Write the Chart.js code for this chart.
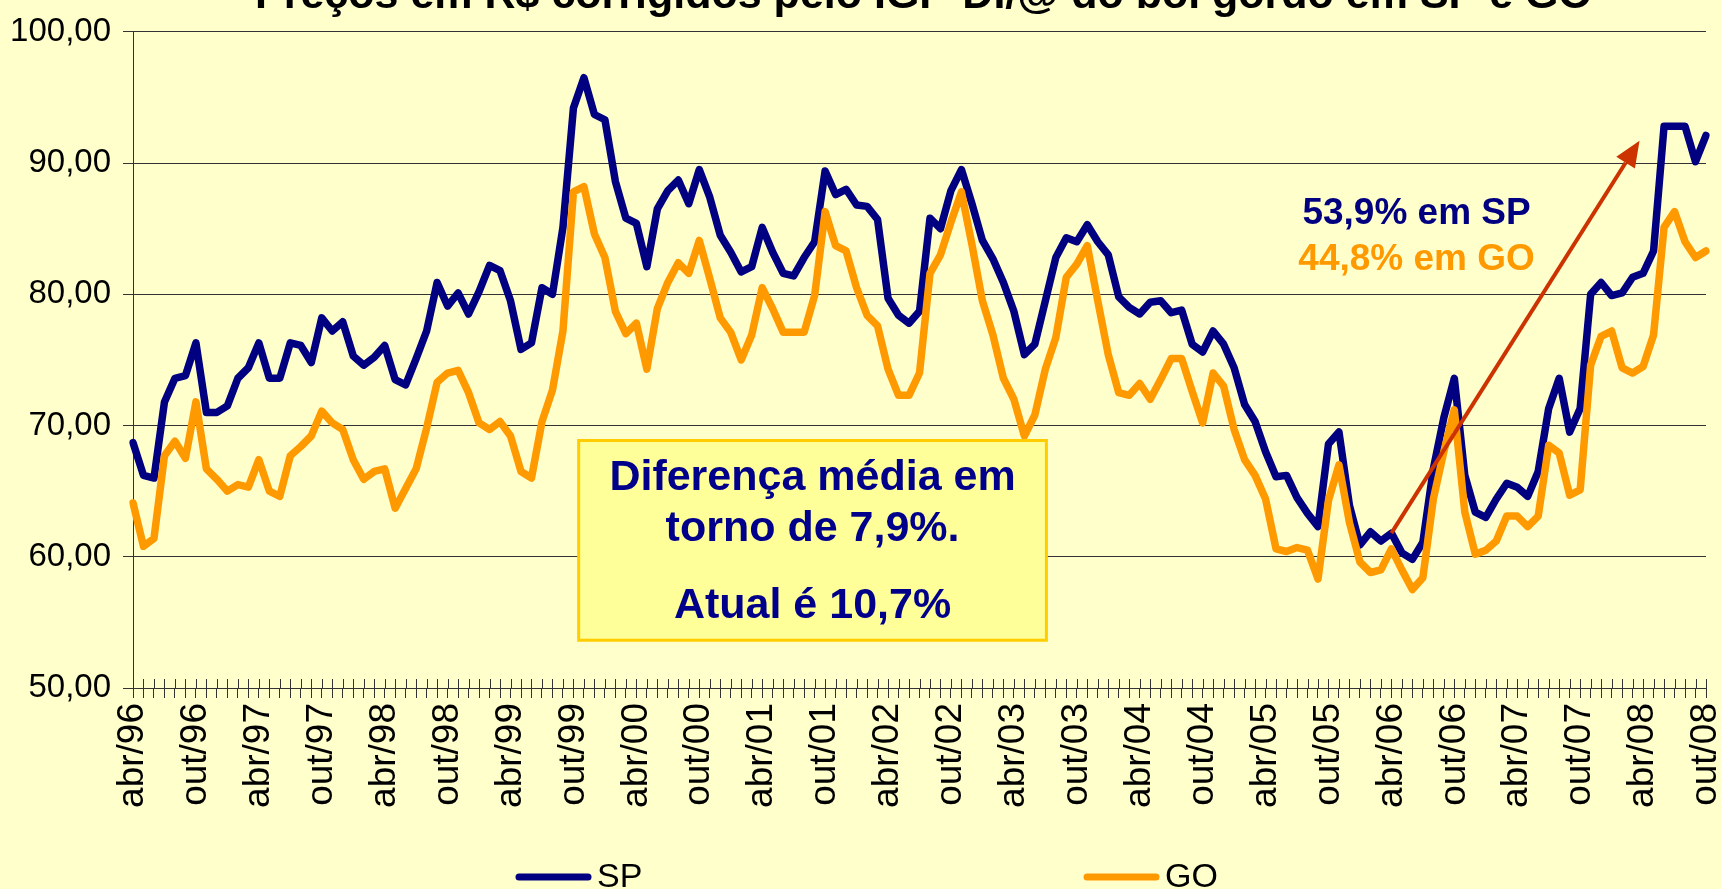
<!DOCTYPE html>
<html>
<head>
<meta charset="utf-8">
<title>Boi gordo SP e GO</title>
<script src="https://cdn.jsdelivr.net/npm/chart.js@4.4.1/dist/chart.umd.min.js"></script>
<style>
  html, body { margin: 0; padding: 0; background: #FFFFCC; }
  #caixa { width: 1721px; height: 889px; }
</style>
</head>
<body>
<div id="caixa"><canvas id="grafico"></canvas></div>
<script>
// meses / anos para os rótulos (abr/96 ... out/08)
const MESES = ['jan','fev','mar','abr','mai','jun','jul','ago','set','out','nov','dez'];
const PRIMEIRO_MES = 3, PRIMEIRO_ANO = 1996, N_MESES = 151;

// R$/@ corrigidos pelo IGP-DI - SP
const valoresSP = [
  68.7, 66.2, 66.0, 71.8, 73.6, 73.8, 76.3, 71.0, 71.0,                  // 1996 (abr-dez)
  71.5, 73.6, 74.4, 76.3, 73.6, 73.6, 76.3, 76.1, 74.8, 78.2, 77.2, 77.9, // 1997
  75.3, 74.6, 75.2, 76.1, 73.5, 73.1, 75.1, 77.2, 80.9, 79.1, 80.1, 78.5, // 1998
  80.2, 82.2, 81.8, 79.5, 75.8, 76.3, 80.5, 80.0, 85.1, 94.2, 96.5, 93.7, // 1999
  93.3, 88.6, 85.8, 85.4, 82.1, 86.5, 87.9, 88.7, 86.9, 89.5, 87.4, 84.5, // 2000
  83.2, 81.7, 82.1, 85.1, 83.2, 81.6, 81.4, 82.8, 84.0, 89.4, 87.6, 88.0, // 2001
  86.8, 86.7, 85.7, 79.7, 78.4, 77.8, 78.7, 85.8, 85.0, 87.9, 89.5, 86.9, // 2002
  84.1, 82.7, 80.9, 78.7, 75.4, 76.2, 79.5, 82.8, 84.3, 84.0, 85.3, 84.0, // 2003
  83.0, 79.8, 79.0, 78.5, 79.4, 79.5, 78.6, 78.8, 76.2, 75.6, 77.2, 76.2, // 2004
  74.4, 71.6, 70.3, 68.0, 66.1, 66.2, 64.5, 63.3, 62.3, 68.6, 69.5, 63.9, // 2005
  60.9, 61.9, 61.2, 61.8, 60.3, 59.8, 61.1, 66.7, 70.6, 73.6, 66.2, 63.4, // 2006
  63.0, 64.4, 65.6, 65.3, 64.6, 66.5, 71.3, 73.6, 69.5, 71.3, 80.0, 80.9, // 2007
  79.9, 80.1, 81.3, 81.6, 83.3, 92.8, 92.8, 92.8, 90.1, 92.1              // 2008 (jan-out)
];

// R$/@ corrigidos pelo IGP-DI - GO
const valoresGO = [
  64.1, 60.8, 61.4, 67.7, 68.8, 67.5, 71.8, 66.7, 65.9,
  65.0, 65.5, 65.3, 67.4, 65.0, 64.6, 67.7, 68.4, 69.2, 71.1, 70.2, 69.7,
  67.4, 65.9, 66.5, 66.7, 63.7, 65.2, 66.7, 69.8, 73.3, 74.0, 74.2, 72.5,
  70.2, 69.7, 70.3, 69.2, 66.5, 66.0, 70.3, 72.7, 77.2, 87.8, 88.2, 84.6,
  82.8, 78.7, 77.0, 77.8, 74.3, 78.9, 80.9, 82.4, 81.6, 84.1, 81.2, 78.2,
  77.1, 75.0, 76.9, 80.5, 78.9, 77.1, 77.1, 77.1, 79.9, 86.3, 83.7, 83.3,
  80.5, 78.4, 77.6, 74.3, 72.3, 72.3, 74.0, 81.6, 83.0, 85.5, 87.8, 83.8,
  79.5, 76.9, 73.6, 72.0, 69.2, 70.8, 74.3, 76.7, 81.3, 82.3, 83.7, 79.5,
  75.4, 72.5, 72.3, 73.2, 72.0, 73.5, 75.1, 75.1, 72.6, 70.2, 74.0, 73.0,
  69.7, 67.4, 66.2, 64.4, 60.6, 60.4, 60.7, 60.5, 58.3, 64.3, 67.0, 62.6,
  59.6, 58.8, 59.0, 60.6, 59.0, 57.5, 58.4, 64.4, 68.0, 71.2, 63.4, 60.2,
  60.5, 61.2, 63.1, 63.1, 62.3, 63.1, 68.5, 67.9, 64.7, 65.1, 74.6, 76.8,
  77.2, 74.4, 74.0, 74.5, 76.9, 85.1, 86.3, 84.0, 82.8, 83.3
];

const titulo = 'Preços em R$ corrigidos pelo IGP-DI/@ do boi gordo em SP e GO';
const textoSP = '53,9% em SP';
const textoGO = '44,8% em GO';
const textoCaixa = ['Diferença média em', 'torno de 7,9%.', 'Atual é 10,7%'];

let rotulos = [];
for (let i = 0; i < N_MESES; i++) {
  let m = (PRIMEIRO_MES + i) % 12;
  let a = PRIMEIRO_ANO + Math.floor((PRIMEIRO_MES + i) / 12);
  rotulos.push(MESES[m] + '/' + String(a % 100).padStart(2, '0'));
}

const FONTE = "'Liberation Sans', Arial, sans-serif";
const AZUL = '#000080', LARANJA = '#FF9900';
Chart.defaults.font.family = FONTE;

// fundo, titulo cortado, seta, caixa e legenda
const enfeites = {
  id: 'enfeites',
  beforeDraw(chart) {
    const ctx = chart.ctx;
    ctx.save();
    ctx.fillStyle = '#FFFFCC';
    ctx.fillRect(0, 0, chart.width, chart.height);
    ctx.restore();
  },
  beforeDatasetsDraw(chart) {
    // tracinhos do eixo x para dentro do gráfico
    const ctx = chart.ctx, x = chart.scales.x, base = chart.chartArea.bottom;
    ctx.save();
    ctx.strokeStyle = '#333';
    ctx.lineWidth = 1;
    ctx.beginPath();
    for (let i = 0; i < rotulos.length; i++) {
      let px = Math.round(x.getPixelForValue(i)) + 0.5;
      ctx.moveTo(px, base - 9);
      ctx.lineTo(px, base);
    }
    ctx.stroke();
    ctx.restore();
  },
  afterDatasetsDraw(chart) {
    const ctx = chart.ctx, x = chart.scales.x, y = chart.scales.y;
    ctx.save();

    // caixa de texto
    let x0 = x.getPixelForValue(42.5), x1 = x.getPixelForValue(87.1);
    let y0 = y.getPixelForValue(68.86), y1 = y.getPixelForValue(53.64);
    ctx.fillStyle = '#FFFF99';
    ctx.fillRect(x0, y0, x1 - x0, y1 - y0);
    ctx.strokeStyle = '#FFCC00';
    ctx.lineWidth = 3;
    ctx.strokeRect(x0, y0, x1 - x0, y1 - y0);
    ctx.fillStyle = '#00008B';
    ctx.font = 'bold 43px ' + FONTE;
    ctx.textAlign = 'center';
    ctx.textBaseline = 'middle';
    let cx = (x0 + x1) / 2;
    [66.0, 62.1, 56.2].forEach((v, i) => ctx.fillText(textoCaixa[i], cx, y.getPixelForValue(v)));

    // seta
    let ax = x.getPixelForValue(120), ay = y.getPixelForValue(61.8);
    let bx = x.getPixelForValue(143.66), by = y.getPixelForValue(91.7);
    let ang = Math.atan2(by - ay, bx - ax);
    let comp = 26, larg = 11;
    ctx.strokeStyle = '#CC3300';
    ctx.fillStyle = '#CC3300';
    ctx.lineWidth = 4;
    ctx.beginPath();
    ctx.moveTo(ax, ay);
    ctx.lineTo(bx - comp * Math.cos(ang), by - comp * Math.sin(ang));
    ctx.stroke();
    ctx.beginPath();
    ctx.moveTo(bx, by);
    ctx.lineTo(bx - comp * Math.cos(ang) + larg * Math.sin(ang), by - comp * Math.sin(ang) - larg * Math.cos(ang));
    ctx.lineTo(bx - comp * Math.cos(ang) - larg * Math.sin(ang), by - comp * Math.sin(ang) + larg * Math.cos(ang));
    ctx.closePath();
    ctx.fill();

    // variações
    ctx.font = 'bold 37px ' + FONTE;
    ctx.fillStyle = AZUL;
    ctx.fillText(textoSP, x.getPixelForValue(122.4), y.getPixelForValue(86.1));
    ctx.fillStyle = LARANJA;
    ctx.fillText(textoGO, x.getPixelForValue(122.4), y.getPixelForValue(82.6));
    ctx.restore();
  },
  afterDraw(chart) {
    const ctx = chart.ctx, area = chart.chartArea;
    ctx.save();
    // título (cortado no topo, como no original)
    ctx.fillStyle = '#000';
    ctx.font = 'bold 43px ' + FONTE;
    ctx.textAlign = 'center';
    ctx.textBaseline = 'alphabetic';
    ctx.fillText(titulo, (area.left + area.right) / 2 + 4, 8);

    // legenda
    const itens = [[516, 'SP', AZUL], [1084, 'GO', LARANJA]];
    ctx.font = '34px ' + FONTE;
    ctx.textAlign = 'left';
    ctx.textBaseline = 'middle';
    ctx.lineCap = 'round';
    ctx.lineWidth = 7;
    itens.forEach(([lx, txt, cor]) => {
      ctx.strokeStyle = cor;
      ctx.beginPath();
      ctx.moveTo(lx + 3, 877);
      ctx.lineTo(lx + 72, 877);
      ctx.stroke();
      ctx.fillStyle = '#000';
      ctx.fillText(txt, lx + 81, 878);
    });
    ctx.restore();
  }
};

const grafico = new Chart(document.getElementById('grafico'), {
  type: 'line',
  data: {
    labels: rotulos,
    datasets: [{
      label: 'SP',
      data: valoresSP,
      borderColor: AZUL,
      borderWidth: 7.5,
      order: 1
    }, {
      label: 'GO',
      data: valoresGO,
      borderColor: LARANJA,
      borderWidth: 7.5,
      order: 0
    }]
  },
  options: {
    responsive: true,
    maintainAspectRatio: false,
    animation: false,
    layout: { padding: { left: 12, right: 15, top: 28, bottom: 81 } },
    elements: {
      point: { radius: 0 },
      line: { tension: 0, borderJoinStyle: 'round', borderCapStyle: 'round' }
    },
    plugins: {
      legend: { display: false },
      tooltip: { enabled: false }
    },
    scales: {
      x: {
        grid: { drawOnChartArea: false, tickLength: 10, color: '#333', lineWidth: 1 },
        border: { color: '#333', width: 1 },
        ticks: {
          autoSkip: false,
          minRotation: 90,
          maxRotation: 90,
          padding: 5,
          color: '#000',
          font: { size: 37 },
          callback: function(v, i) { return i % 6 === 0 ? rotulos[i] : ''; }
        },
        afterFit: function(eixo) { eixo.height = 120; eixo.paddingLeft = 0; eixo.paddingRight = 0; }
      },
      y: {
        min: 50,
        max: 100,
        grid: { color: '#333', tickLength: 10, lineWidth: 1 },
        border: { color: '#333', width: 1 },
        ticks: {
          stepSize: 10,
          padding: 12,
          color: '#000',
          font: { size: 33 },
          callback: v => v.toFixed(2).replace('.', ',')
        },
        afterFit: function(eixo) { eixo.width = 121; }
      }
    }
  },
  plugins: [enfeites]
});
</script>
</body>
</html>
